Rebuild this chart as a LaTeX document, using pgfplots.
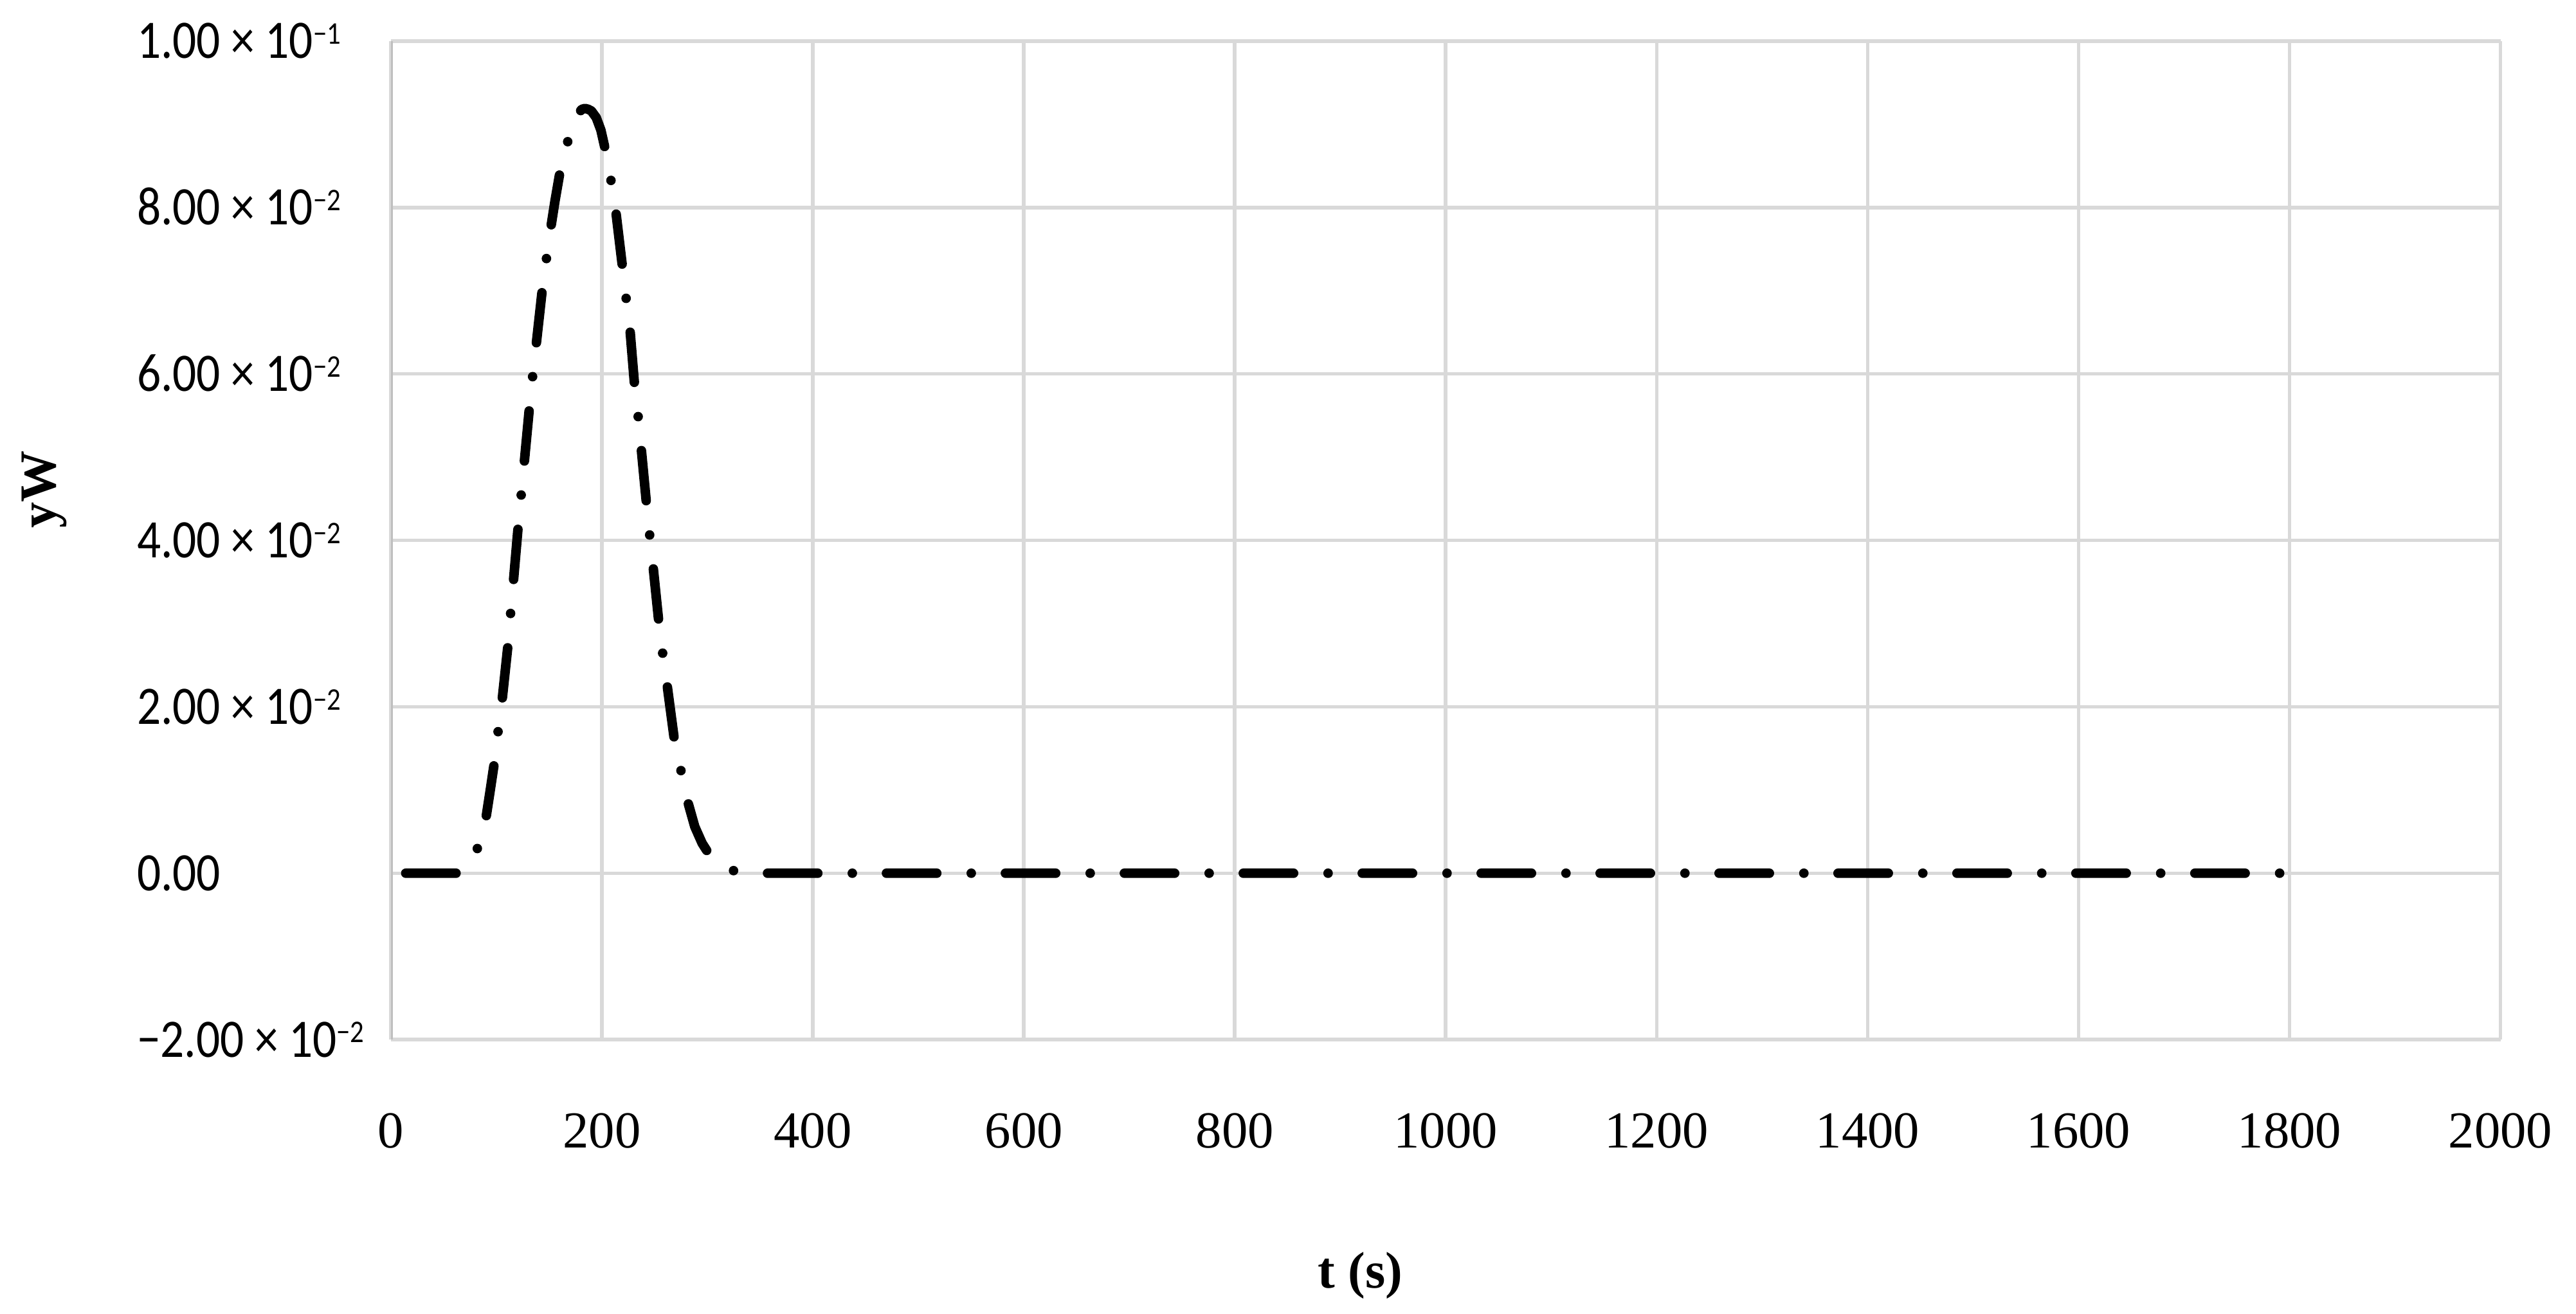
\documentclass[border=0pt]{standalone}
\usepackage{pgfplots}
\pgfplotsset{compat=1.18}
\usepackage{fontspec}
\setmainfont{Liberation Serif}
\newfontfamily\carlito[FakeStretch=0.87]{Carlito}
\definecolor{gridc}{HTML}{D9D9D9}
\definecolor{axc}{HTML}{BFBFBF}
\newcommand{\ysup}[1]{\raisebox{4.4bp}{\fontsize{9.6bp}{10bp}\selectfont #1}}
\begin{document}
\begin{tikzpicture}
\useasboundingbox (-119bp,-83.5bp) rectangle (665bp,316.5bp);
\begin{axis}[
 at={(0,0)}, anchor=south west,
 width=642bp, height=304bp, scale only axis,
 xmin=0, xmax=2000, ymin=-0.02, ymax=0.1,
 xtick={0,200,400,600,800,1000,1200,1400,1600,1800,2000},
 xticklabels={0,200,400,600,800,1000,1200,1400,1600,1800,2000},
 ytick={-0.02,0,0.02,0.04,0.06,0.08,0.1},
 yticklabels={{−2.00 × 10\ysup{−2}},{0.00},{2.00 × 10\ysup{−2}},{4.00 × 10\ysup{−2}},{6.00 × 10\ysup{−2}},{8.00 × 10\ysup{−2}},{1.00 × 10\ysup{−1}}},
 grid=major, grid style={gridc, line width=1.1bp},
 axis line style={draw=none},
 major tick length=0pt,
 xticklabel style={anchor=base, yshift=-33bp, inner sep=0pt, font=\fontsize{15.8bp}{18bp}\selectfont},
 yticklabel style={anchor=base west, xshift=-77.5bp, yshift=-5.3bp, inner sep=0pt, font=\carlito\fontsize{16.5bp}{18bp}\selectfont},
 xlabel={t (s)}, ylabel={yW},
 xlabel style={at={(axis description cs:0.4595,-0.2484)}, anchor=base, inner sep=0pt, font=\bfseries\fontsize{15.7bp}{18bp}\selectfont},
 ylabel style={at={(axis description cs:-0.1589,0.551)}, anchor=base, inner sep=0pt, font=\bfseries\fontsize{15.7bp}{18bp}\selectfont},
]
\draw[axc, line width=1.2bp] (rel axis cs:0,0) -- (rel axis cs:0,1);
\addplot[black, line width=2.9bp, line cap=round, line join=round, mark=none,
  dash pattern=on 15.3bp off 10.5bp on 0bp off 10.4bp] coordinates {
(14,0) (30,0) (50,0) (64,0) (70,0.0004) (76,0.0014) (82,0.0030) (86,0.0046)
(90,0.0066) (94,0.0099) (98,0.0133) (101.5,0.0170) (105.2,0.0206) (110.8,0.0273)
(113.3,0.0311) (115.9,0.0348) (120.6,0.0417) (123.4,0.0454) (126.1,0.0490)
(131.2,0.0559) (134.2,0.0596) (137.3,0.0631) (143.4,0.0701) (147.2,0.0737)
(151.3,0.0774) (155.5,0.0808) (160,0.0841) (163.5,0.0861) (167.1,0.0877) (172,0.0900)
(177.3,0.0913) (181,0.0918) (184,0.0919) (187,0.0918) (190,0.0916) (194.6,0.0908)
(199,0.0893) (203.1,0.0870) (208.8,0.0831) (213.2,0.0795) (219.6,0.0727)
(223,0.0690) (226.6,0.0653) (230.7,0.0590) (234.4,0.0548) (237.2,0.0511)
(242.3,0.0443) (245.3,0.0406) (248.4,0.0370) (253.9,0.0302) (257.5,0.0265)
(261.6,0.0228) (268.7,0.0160) (274.8,0.0124) (280.9,0.0088) (288,0.0056)
(295,0.0036) (302,0.0022) (310,0.0012) (318,0.0006) (325,0.0003) (335,0.0001)
(350,0) (500,0) (800,0) (1100,0) (1400,0) (1796,0)
};
\end{axis}
\end{tikzpicture}
\end{document}
